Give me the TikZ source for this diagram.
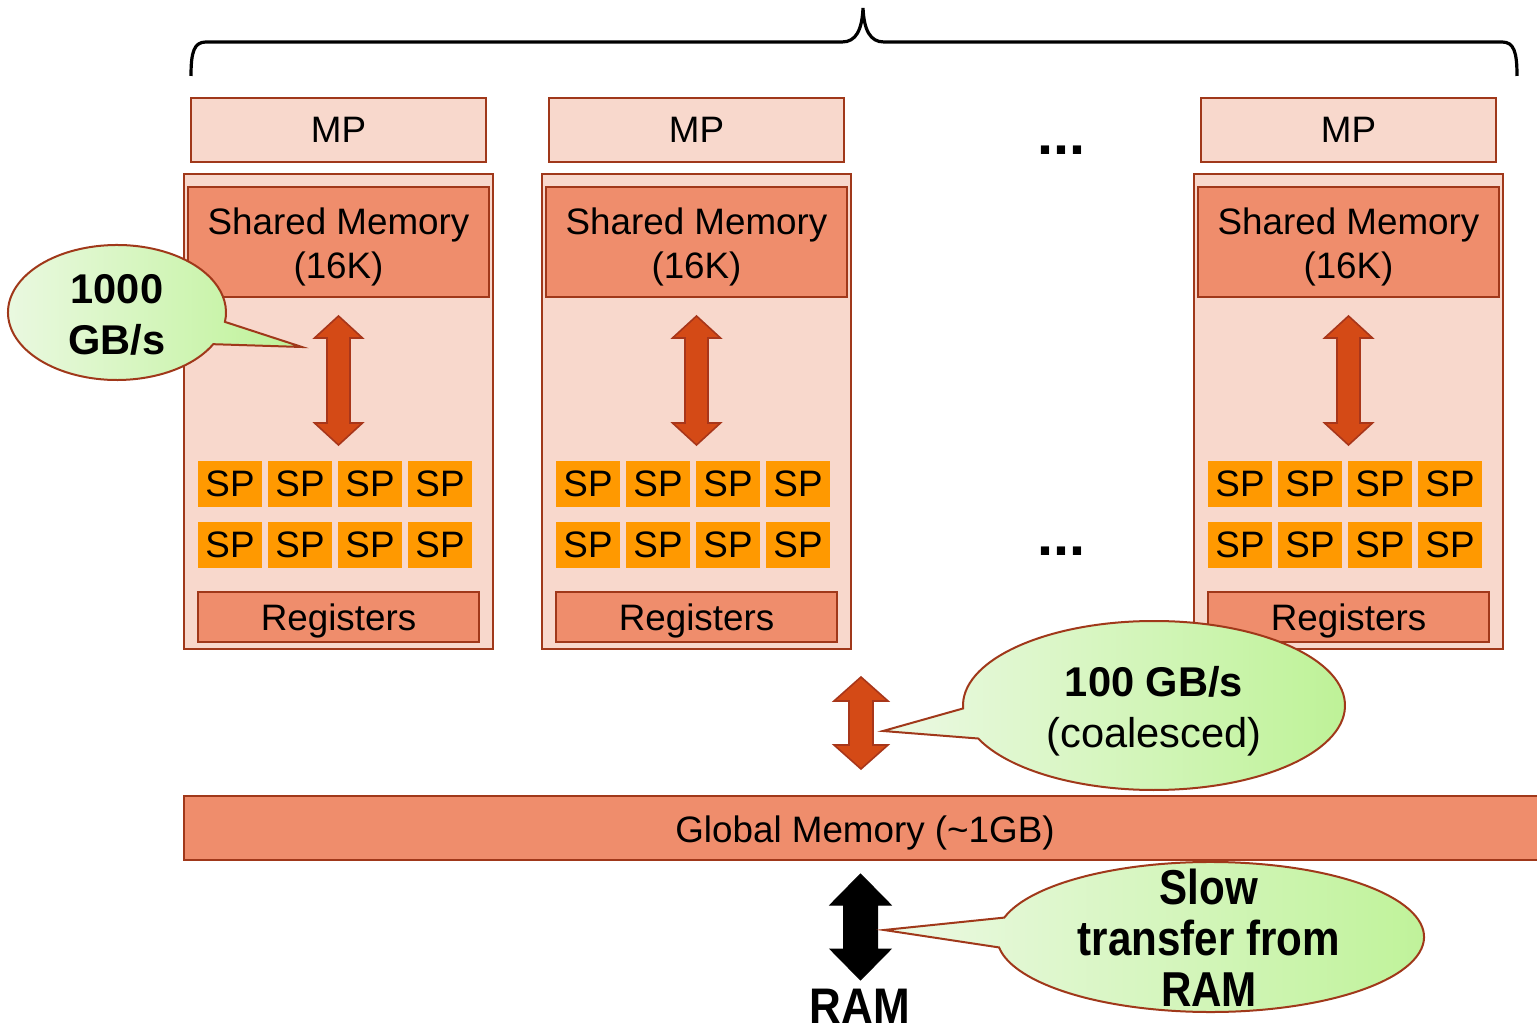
\documentclass[tikz,border=0pt]{standalone}
\usepackage{fontspec}
\setmainfont{Liberation Sans}
\usepackage{graphicx}
\definecolor{peach}{HTML}{F8D8CC}
\definecolor{salmon}{HTML}{EF8D6C}
\definecolor{brdc}{HTML}{A0381A}
\definecolor{sporange}{HTML}{FF9900}
\definecolor{arrowfill}{HTML}{D44A16}
\definecolor{arrowbrd}{HTML}{A8361A}
\definecolor{calloutL}{HTML}{ECF9E4}
\definecolor{calloutR}{HTML}{BEF297}
\newcommand\fnorm{\fontsize{18.4}{22}\selectfont}
\newcommand\fcall{\fontsize{20.8}{25.3}\selectfont}
\newcommand\fslow{\fontsize{24.5}{25.5}\selectfont\bfseries}
\newcommand\fram{\fontsize{25}{26}\selectfont\bfseries}
\newcommand\fdots{\fontsize{28.8}{30}\selectfont\bfseries}
\begin{document}
\begin{tikzpicture}[x=0.5pt,y=-0.5pt,
  brd/.style={draw=brdc, line width=1pt},
  mpbox/.style={brd, fill=peach, minimum width=147.5pt, minimum height=32pt, inner sep=0pt, font=\fnorm},
  outerbox/.style={brd, fill=peach, minimum width=154.5pt, minimum height=237.5pt, inner sep=0pt},
  smbox/.style={brd, fill=salmon, minimum width=150.5pt, minimum height=55pt, inner sep=0pt},
  smtext/.style={align=center, font=\fnorm, inner sep=0pt},
  spbox/.style={fill=sporange, minimum width=32pt, minimum height=23pt, inner sep=0pt, font=\fnorm},
  regbox/.style={brd, fill=salmon, minimum width=140.5pt, minimum height=25pt, inner sep=0pt, font=\fnorm,
                 text height=13.2pt, text depth=0pt},
  arrowsh/.style={fill=arrowfill, draw=arrowbrd, line width=0.8pt, line join=miter},
  blackarrow/.style={fill=black, draw=black, line width=0.5pt},
  callout/.style={left color=calloutL, right color=calloutR, draw=brdc, line width=1pt, line join=miter},
  calltext/.style={align=center, font=\fcall, inner sep=0pt},
  dotstext/.style={font=\fdots, inner sep=0pt, anchor=base}
]
\useasboundingbox (0,0) rectangle (1537,1031);

% brace
\draw[line width=1.6pt] (191,76) .. controls (191,52) and (194,42) .. (206,42) -- (842,42)
  .. controls (856,42) and (862,30) .. (863,8) .. controls (864,30) and (870,42) .. (884,42)
  -- (1502,42) .. controls (1514,42) and (1517,52) .. (1517,76);

% multiprocessors
\foreach \i/\cx in {1/338.5, 2/696.5, 3/1348.5} {
  \node[mpbox] (mp\i) at (\cx,130) {MP};
  \node[outerbox] (outer\i) at (\cx,411.5) {};
  \node[smbox] (sm\i) at (\cx,242) {};
  \node[smtext] (smlabel\i) at (\cx,247) {Shared Memory\\(16K)};
  \draw[arrowsh] (\cx,316) -- ++(24,22) -- ++(-12.5,0) -- ++(0,85) -- ++(12.5,0) -- ++(-24,22)
     -- ++(-24,-22) -- ++(12.5,0) -- ++(0,-85) -- ++(-12.5,0) -- cycle;
  \foreach \c/\dx in {1/-108.5, 2/-38.5, 3/31.5, 4/101.5} {
    \foreach \r/\ry in {1/484, 2/545} {
      \node[spbox] (sp\i\c\r) at ({\cx+\dx},\ry) {SP};
    }
  }
  \node[regbox] (reg\i) at (\cx,617) {Registers};
}

% dots
\node[dotstext] (dotsA) at (1061,155) {...};
\node[dotstext] (dotsB) at (1061,556) {...};

% global memory
\node[fill=salmon, minimum width=676.5pt, minimum height=32pt, inner sep=0pt] (gm) at (860.5,828) {};
\draw[brd] (gm.north east) -- (gm.north west) -- (gm.south west) -- (gm.south east);
\node[font=\fnorm, inner sep=0pt, text height=13.2pt, text depth=0pt] (gmlabel) at (865,829) {Global Memory (\textasciitilde 1GB)};

% arrow between MPs and global memory
\draw[arrowsh] (861,677) -- ++(27,24) -- ++(-15,0) -- ++(0,44) -- ++(15,0) -- ++(-27,24)
   -- ++(-27,-24) -- ++(15,0) -- ++(0,-44) -- ++(-15,0) -- cycle;

% black arrow to RAM
\draw[blackarrow] (860.5,874) -- ++(30.5,31) -- ++(-13.5,0) -- ++(0,44) -- ++(13.5,0) -- ++(-30.5,31)
   -- ++(-30.5,-31) -- ++(13.5,0) -- ++(0,-44) -- ++(-13.5,0) -- cycle;
\node[font=\fram, inner sep=0pt] (ram) at (860,1006) {\scalebox{0.88}[1]{RAM}};

% callout 1
\coordinate (tipA) at (302,347);
\draw[callout] (117,312.5) ++({109*cos(28)},{67.5*sin(28)})
   arc[start angle=28, end angle=368, x radius=109, y radius=67.5] -- (tipA) -- cycle;
\node[calltext] (c1) at (117,315) {\bfseries 1000\\\bfseries GB/s};

% callout 2
\coordinate (tipB) at (883,731);
\draw[callout] (1154,705.5) ++({191*cos(178)},{84.5*sin(178)})
   arc[start angle=178, end angle=517, x radius=191, y radius=84.5] -- (tipB) -- cycle;
\node[calltext] (c2) at (1154,711) {\bfseries 100 GB/s\\(coalesced)};

% callout 3
\coordinate (tipC) at (884,930);
\draw[callout] (1210.5,937) ++({213.5*cos(195)},{75*sin(195)})
   arc[start angle=195, end angle=532, x radius=213.5, y radius=75] -- (tipC) -- cycle;
\node[align=center, font=\fslow, inner sep=0pt] (c3) at (1209,938)
   {\scalebox{0.86}[1]{Slow}\\\scalebox{0.86}[1]{transfer from}\\\scalebox{0.86}[1]{RAM}};
\end{tikzpicture}
\end{document}
